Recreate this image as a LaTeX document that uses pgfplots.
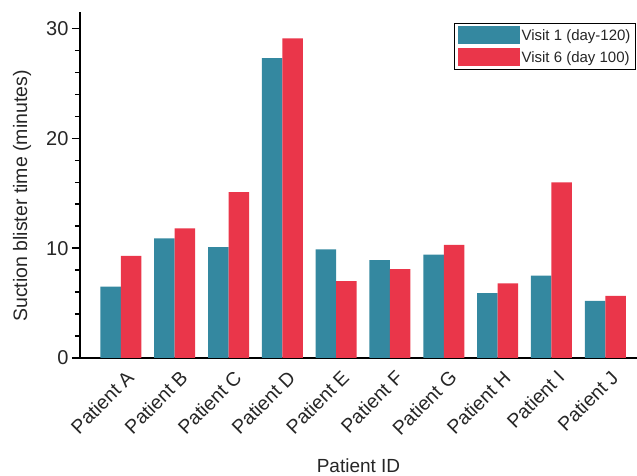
\documentclass[border=0pt]{standalone}
\usepackage{pgfplots}
\pgfplotsset{compat=1.18}
\usepackage{fontspec}
\setmainfont{Liberation Sans}
\definecolor{vone}{RGB}{52,136,160}
\definecolor{vsix}{RGB}{234,54,74}
\begin{document}
\begin{tikzpicture}
\begin{axis}[
  scale only axis, width=557pt, height=346pt,
  xmin=-0.76, xmax=9.59, ymin=0, ymax=31.5,
  axis lines=left,
  axis line style={line width=2pt, -, black},
  ybar=0pt, bar width=20.5pt,
  xtick={0,...,9},
  xticklabels={Patient A,Patient B,Patient C,Patient D,Patient E,Patient F,Patient G,Patient H,Patient I,Patient J},
  x tick label style={rotate=45, anchor=north east, inner sep=2pt, xshift=3pt, yshift=-3pt, font=\fontsize{19.5}{19.5}\selectfont, text=black!85},
  xtick style={draw=none},
  ytick={0,10,20,30},
  minor y tick num=4,
  tick align=outside,
  major tick length=8pt, minor tick length=5pt,
  ytick style={line width=1.5pt, black},
  minor tick style={line width=1.5pt, black},
  y tick label style={font=\fontsize{20}{20}\selectfont, text=black!85},
  /pgf/number format/assume math mode=true,
  xlabel={Patient ID},
  xlabel style={at={(axis description cs:0.5,-0.312)}, anchor=center, font=\fontsize{19}{19}\selectfont, text=black!85},
  ylabel={Suction blister time (minutes)},
  ylabel style={at={(axis description cs:-0.104,0.468)}, anchor=center, font=\fontsize{19.5}{19.5}\selectfont, text=black!85},
  legend style={at={(axis description cs:1,1)}, anchor=north east, yshift=-11pt, xshift=-1pt,
    draw=black, line width=1pt, font=\fontsize{15}{15}\selectfont, text=black!85,
    cells={anchor=west}, inner sep=3pt, row sep=4pt},
  clip=false,
]
\addplot[fill=vone, draw=none, legend image code/.code={\fill[vone] (0pt,-9pt) rectangle (62pt,9pt);}]
  coordinates {(0,6.5) (1,10.9) (2,10.1) (3,27.3) (4,9.9) (5,8.9) (6,9.4) (7,5.9) (8,7.5) (9,5.2)};
\addplot[fill=vsix, draw=none, legend image code/.code={\fill[vsix] (0pt,-9pt) rectangle (62pt,9pt);}]
  coordinates {(0,9.3) (1,11.8) (2,15.1) (3,29.1) (4,7.0) (5,8.1) (6,10.3) (7,6.8) (8,16.0) (9,5.65)};
\legend{Visit 1 (day-120),Visit 6 (day 100)}
\end{axis}
\pgfresetboundingbox
\path[use as bounding box] ([xshift=-80pt,yshift=-118pt]current axis.south west) rectangle ([yshift=12pt]current axis.north east);
\end{tikzpicture}
\end{document}
